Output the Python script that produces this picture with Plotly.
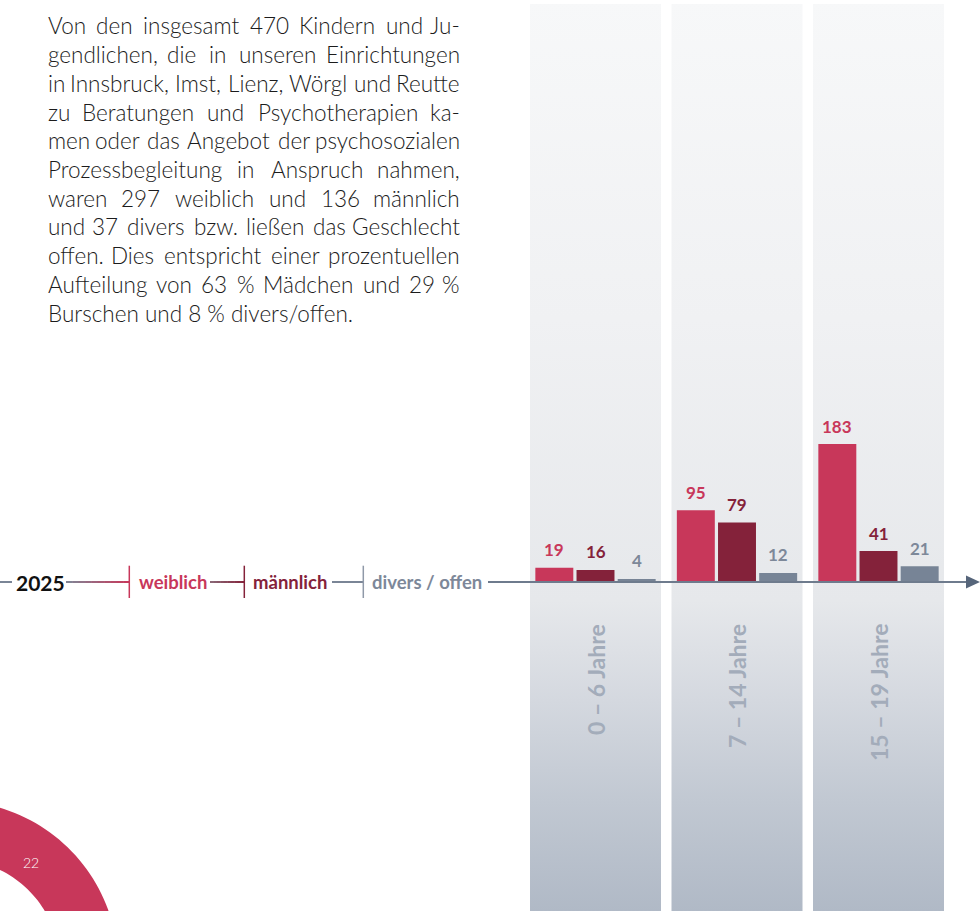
import math
import plotly.graph_objects as go

# ---------------- data ----------------
age_groups = ["0 – 6 Jahre", "7 – 14 Jahre", "15 – 19 Jahre"]
series_names = ["weiblich", "männlich", "divers / offen"]
weiblich = [19, 95, 183]
maennlich = [16, 79, 41]
divers = [4, 12, 21]
year_label = "2025"
page_number = "22"
paragraph_lines = [
    "Von den insgesamt 470 Kindern und Ju-",
    "gendlichen, die in unseren Einrichtungen",
    "in Innsbruck, Imst, Lienz, Wörgl und Reutte",
    "zu Beratungen und Psychotherapien ka-",
    "men oder das Angebot der psychosozialen",
    "Prozessbegleitung in Anspruch nahmen,",
    "waren 297 weiblich und 136 männlich",
    "und 37 divers bzw. ließen das Geschlecht",
    "offen. Dies entspricht einer prozentuellen",
    "Aufteilung von 63 % Mädchen und 29 %",
    "Burschen und 8 % divers/offen.",
]

# ---------------- styling / layout constants ----------------
W, H = 980, 911
PX_PER_UNIT = 0.754
BASE_PX = 582
CAT_PX = 141.5
CAT0_PX = 595.5
BARGAP = 0.127
BARGROUPGAP = 0.078

C_W = "#c8375a"
C_M = "#84223a"
C_D = "#778496"
C_D_TXT = "#7d8899"
C_AXIS = "#6e7b8d"
C_GRAYLINE = "#7a8596"
C_AGE = "#a3acba"
FONT = "Lato"

yr = [-(H - BASE_PX) / PX_PER_UNIT, BASE_PX / PX_PER_UNIT]
xr = [-CAT0_PX / CAT_PX, (W - CAT0_PX) / CAT_PX]


def yval(py):
    return (BASE_PX - py) / PX_PER_UNIT


def px(x):
    return x / W


def py(y):
    return 1 - y / H


def hex2rgb(h):
    h = h.lstrip("#")
    return tuple(int(h[i:i + 2], 16) for i in (0, 2, 4))


def mix(c0, c1, t):
    a, b = hex2rgb(c0), hex2rgb(c1)
    return "rgb(%d,%d,%d)" % tuple(round(a[k] + (b[k] - a[k]) * t) for k in range(3))


fig = go.Figure()

# ---------------- background columns (gradient) ----------------
col_half = 131 / CAT_PX / 2
for i in range(len(age_groups)):
    fig.add_trace(go.Scatter(
        x=[i - col_half, i + col_half, i + col_half, i - col_half],
        y=[yr[0] - 5, yr[0] - 5, yval(4), yval(4)],
        mode="lines", line=dict(width=0, color="rgba(0,0,0,0)"),
        fill="toself",
        fillgradient=dict(
            type="vertical",
            start=yr[0], stop=yr[1],
            colorscale=[
                [0.0, "#b0b9c6"],
                [0.12, "#c1c8d2"],
                [0.23, "#d4d8df"],
                [0.34, "#e6e8eb"],
                [0.65, "#f0f1f3"],
                [1.0, "#f7f8f9"],
            ],
        ),
        hoverinfo="skip", showlegend=False, xaxis="x", yaxis="y",
    ))

# ---------------- bars ----------------
for name, vals, col in [(series_names[0], weiblich, C_W),
                        (series_names[1], maennlich, C_M),
                        (series_names[2], divers, C_D)]:
    fig.add_trace(go.Bar(
        x=list(range(len(age_groups))), y=vals, name=name,
        marker=dict(color=col, line=dict(width=0)),
        xaxis="x2", yaxis="y2", showlegend=False, hoverinfo="skip",
    ))

annotations = []
shapes = []

# value labels
slot = (1 - BARGAP) / 3
for j, (vals, col) in enumerate([(weiblich, C_W), (maennlich, C_M), (divers, C_D_TXT)]):
    for i, v in enumerate(vals):
        annotations.append(dict(
            x=i + (j - 1) * slot, y=v, xref="x", yref="y",
            text="<b>%d</b>" % v, showarrow=False, yshift=18,
            xanchor="center", yanchor="middle",
            font=dict(family=FONT, size=17, color=col),
        ))

# age labels (rotated)
for i, g in enumerate(age_groups):
    annotations.append(dict(
        x=i, y=yval(622), xref="x", yref="y", text="<b>%s</b>" % g,
        showarrow=False, textangle=-90, xanchor="center", yanchor="top",
        font=dict(family=FONT, size=23, color=C_AGE),
    ))

# ---------------- timeline axis & legend ----------------
def seg(x0, x1, color, width=2):
    shapes.append(dict(type="line", xref="paper", yref="y",
                       x0=px(x0), x1=px(x1), y0=0, y1=0,
                       line=dict(color=color, width=width), layer="above"))


def grad(x0, x1, c0, c1, n=10):
    step = (x1 - x0) / n
    for k in range(n):
        seg(x0 + k * step, x0 + (k + 1) * step + 0.5, mix(c0, c1, (k + 0.5) / n))


seg(0, 12, C_GRAYLINE)
grad(66, 129.5, "#7d8797", C_W)
grad(210, 244.5, "#8a6a78", C_M)
seg(332, 363.5, C_GRAYLINE)
seg(488, 968, C_AXIS)

for xt, col in [(129.3, C_W), (244.3, C_M), (363.3, "#8f99a8")]:
    shapes.append(dict(type="line", xref="paper", yref="y",
                       x0=px(xt), x1=px(xt), y0=yval(565.7), y1=yval(598),
                       line=dict(color=col, width=1.5), layer="above"))

# arrow head
shapes.append(dict(
    type="path", xref="paper", yref="y",
    path="M %f,%f L %f,%f L %f,%f Z" % (px(966), yval(575.5), px(980), 0, px(966), yval(588.5)),
    fillcolor="#56657a", line=dict(width=0), layer="above"))

annotations.append(dict(x=px(14), y=0, xref="paper", yref="y", text="<b>%s</b>" % year_label,
                        showarrow=False, xanchor="left", yanchor="middle",
                        font=dict(family=FONT, size=21, color="#111111")))
for xt, name, col in [(137, series_names[0], C_W), (251, series_names[1], C_M),
                      (370, series_names[2], C_D_TXT)]:
    annotations.append(dict(x=px(xt), y=0, xref="paper", yref="y", text="<b>%s</b>" % name,
                            showarrow=False, xanchor="left", yanchor="middle",
                            font=dict(family=FONT, size=18.5, color=col)))

# ---------------- paragraph (justified) ----------------
CW = {" ": 0.193, "a": 0.49, "b": 0.55, "c": 0.46, "d": 0.55, "e": 0.51, "f": 0.32,
      "g": 0.50, "h": 0.55, "i": 0.23, "j": 0.23, "k": 0.49, "l": 0.23, "m": 0.82,
      "n": 0.55, "o": 0.55, "p": 0.55, "q": 0.55, "r": 0.36, "s": 0.42, "t": 0.35,
      "u": 0.55, "v": 0.49, "w": 0.74, "x": 0.48, "y": 0.49, "z": 0.44, "ß": 0.56,
      "ä": 0.49, "ö": 0.55, "ü": 0.55, "A": 0.68, "B": 0.62, "D": 0.72, "E": 0.55,
      "G": 0.70, "I": 0.27, "J": 0.38, "K": 0.63, "L": 0.48, "M": 0.86, "P": 0.58,
      "R": 0.61, "V": 0.68, "W": 0.98, ",": 0.2, ".": 0.2, "-": 0.35, "/": 0.36,
      "%": 0.76}
PFS = 22.5
PX0, PX1 = 46, 462


def wwidth(w):
    return sum(CW.get(ch, 0.58 if ch.isdigit() else 0.5) for ch in w) * PFS


pfont = dict(family=FONT, size=PFS, color="#1c1c1c", weight=300)
for li, line in enumerate(paragraph_lines):
    yc = 33 + li * 28.7 - 7
    if li == len(paragraph_lines) - 1:
        annotations.append(dict(x=px(PX0), y=py(yc), xref="paper", yref="paper", text=line,
                                showarrow=False, xanchor="left", yanchor="middle", font=pfont))
        continue
    words = line.split(" ")
    widths = [wwidth(w) for w in words]
    gap = max((PX1 - PX0 - sum(widths)) / (len(words) - 1), 3)
    cur = PX0
    for k, (w, ww) in enumerate(zip(words, widths)):
        if k == 0:
            xa, xx = "left", cur
        elif k == len(words) - 1:
            xa, xx = "right", PX1
        else:
            xa, xx = "center", cur + ww / 2
        annotations.append(dict(x=px(xx), y=py(yc), xref="paper", yref="paper", text=w,
                                showarrow=False, xanchor=xa, yanchor="middle", font=pfont))
        cur += ww + gap

# ---------------- decorative ring with page number ----------------
cx, cy, r_out, r_in = -47, 966, 165, 107
angs = [math.radians(100 - k * 2) for k in range(61)]
pts = [(cx + r_out * math.cos(a), cy - r_out * math.sin(a)) for a in angs]
pts += [(cx + r_in * math.cos(a), cy - r_in * math.sin(a)) for a in reversed(angs)]
path = "M " + " L ".join("%f,%f" % (px(x), py(y)) for x, y in pts) + " Z"
shapes.append(dict(type="path", xref="paper", yref="paper", path=path,
                   fillcolor=C_W, line=dict(width=0), layer="above"))
annotations.append(dict(x=px(31), y=py(862), xref="paper", yref="paper", text=page_number,
                        showarrow=False, xanchor="center", yanchor="middle",
                        font=dict(family=FONT, size=14, color="#ffffff", weight=300)))

ax_common = dict(visible=False, showgrid=False, zeroline=False, fixedrange=True)
fig.update_layout(
    width=W, height=H, margin=dict(l=0, r=0, t=0, b=0),
    paper_bgcolor="white", plot_bgcolor="white",
    barmode="group", bargap=BARGAP, bargroupgap=BARGROUPGAP,
    xaxis=dict(range=xr, domain=[0, 1], **ax_common),
    yaxis=dict(range=yr, domain=[0, 1], **ax_common),
    xaxis2=dict(range=xr, overlaying="x", **ax_common),
    yaxis2=dict(range=yr, overlaying="y", **ax_common),
    shapes=shapes, annotations=annotations, showlegend=False,
)

fig.write_html("out.html", config={"displayModeBar": False},
               post_script="document.body.style.margin='0';document.body.style.overflow='hidden';")
